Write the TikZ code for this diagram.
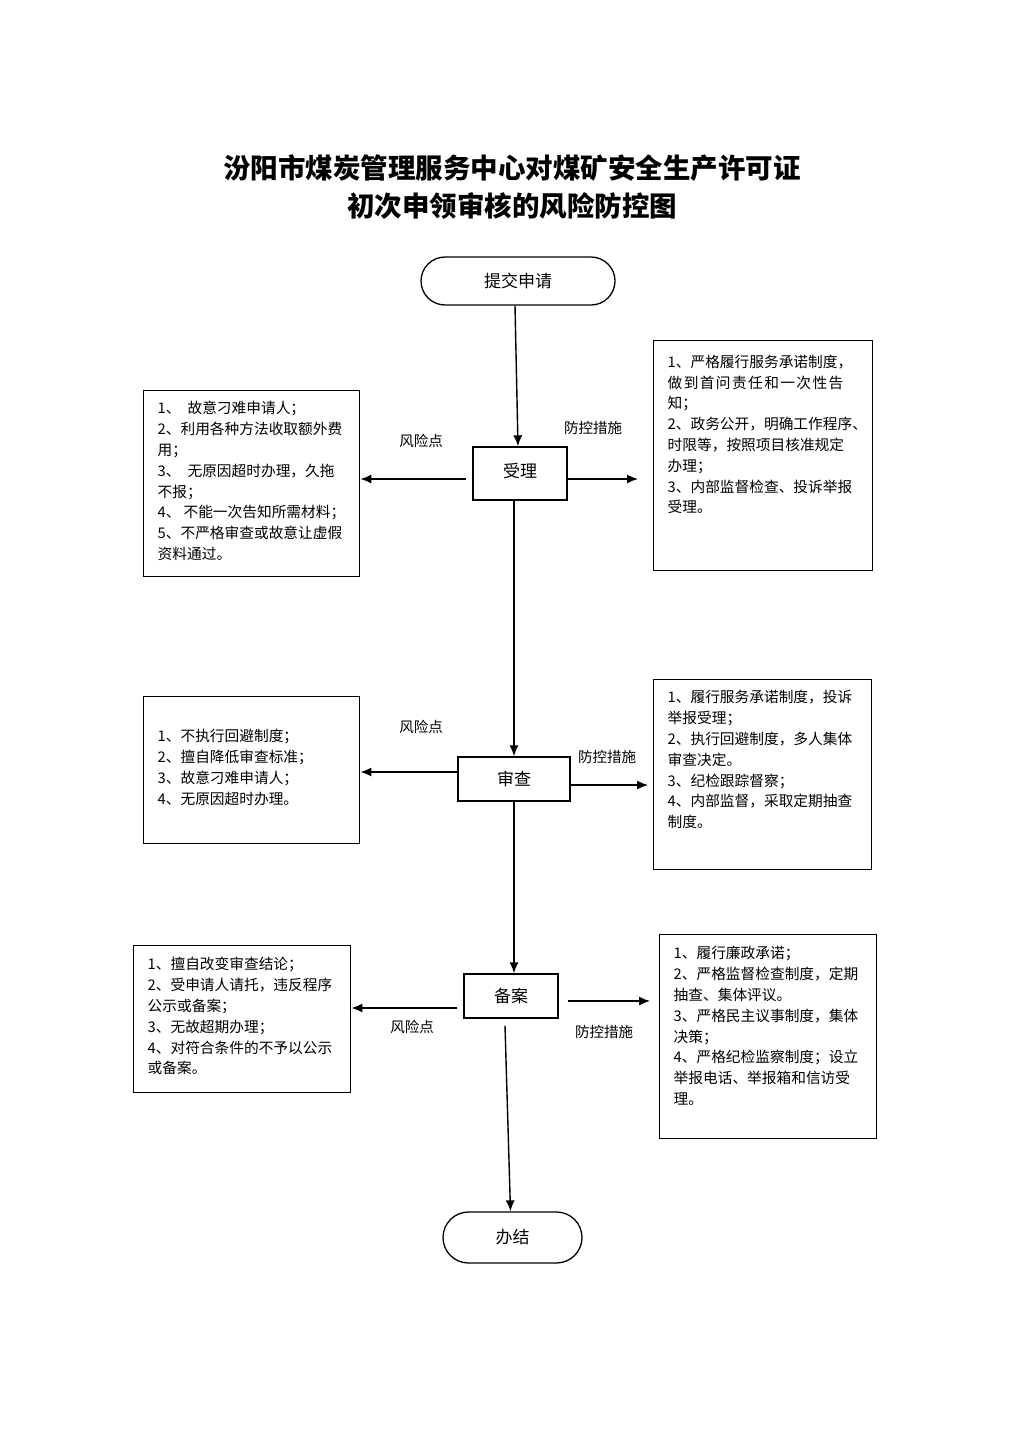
\documentclass[tikz,border=0pt]{standalone}
\usepackage{fontspec}
\newfontfamily\cjk{Noto Sans CJK SC}
\usetikzlibrary{arrows.meta,shapes.misc}
\hfuzz=200pt
\vfuzz=200pt
\newcommand\panelbody[4]{\parbox[c][#2][t]{#1}{\raggedright\leftskip=14pt\rightskip=0pt plus 1fil\parindent=0pt\cjk\fontsize{14.7}{20.8}\selectfont\vspace*{#3}#4\par}}
\begin{document}
\begin{tikzpicture}[x=1pt,y=-1pt,
  every node/.style={text=black},
  term/.style={draw, line width=1.3pt, rounded rectangle, inner sep=0pt, font=\cjk\fontsize{17}{20}\selectfont},
  procbox/.style={draw, line width=1.4pt, inner sep=0pt, font=\cjk\fontsize{17}{20}\selectfont},
  panel/.style={draw, line width=1.4pt, inner sep=0pt, anchor=north west},
  flow/.style={line width=1.4pt, -{Latex[length=11pt,width=9pt]}},
  lbl/.style={font=\cjk\fontsize{14.5}{16}\selectfont},
  ttl/.style={font=\cjk\bfseries\fontsize{27.5}{30}\selectfont}
]
\useasboundingbox (0,0) rectangle (1024,1448);
\fill[white] (0,0) rectangle (1024,1448);

% title
\node[ttl] (t1) at (512,168) {汾阳市煤炭管理服务中心对煤矿安全生产许可证};
\node[ttl] (t2) at (512,206) {初次申领审核的风险防控图};

% main flow
\node[term, minimum width=194pt, minimum height=48pt] (start) at (518,281) {提交申请};
\node[procbox, minimum width=94pt, minimum height=53pt] (a) at (520,473.5) {\raisebox{6pt}{受理}};
\node[procbox, minimum width=112pt, minimum height=44pt] (b) at (514,779) {审查};
\node[procbox, minimum width=94pt, minimum height=44pt] (c) at (511,996) {备案};
\node[term, minimum width=139pt, minimum height=51pt] (end) at (512.5,1237.5) {办结};

% panels
\node[panel] (l1) at (143,390) {\panelbody{216pt}{186pt}{10.7pt}{%
1、\hspace{7pt}故意刁难申请人；\\
2、利用各种方法收取额外费\\
用；\\
3、\hspace{7pt}无原因超时办理，久拖\\
不报；\\
4、\hspace{3pt}不能一次告知所需材料；\\
5、不严格审查或故意让虚假\\
资料通过。}};

\node[panel] (r1) at (653,340) {\panelbody{219pt}{230pt}{14.2pt}{%
1、严格履行服务承诺制度，\\
做\kern1.4pt 到\kern1.4pt 首\kern1.4pt 问\kern1.4pt 责\kern1.4pt 任\kern1.4pt 和\kern1.4pt 一\kern1.4pt 次\kern1.4pt 性\kern1.4pt 告\\
知；\\
2、政务公开，明确工作程序、\\
时限等，按照项目核准规定\\
办理；\\
3、内部监督检查、投诉举报\\
受理。}};

\node[panel] (l2) at (143,696) {\panelbody{216pt}{147pt}{32.7pt}{%
1、不执行回避制度；\\
2、擅自降低审查标准；\\
3、故意刁难申请人；\\
4、无原因超时办理。}};

\node[panel] (r2) at (653,679) {\panelbody{218pt}{190pt}{10.7pt}{%
1、履行服务承诺制度，投诉\\
举报受理；\\
2、执行回避制度，多人集体\\
审查决定。\\
3、纪检跟踪督察；\\
4、内部监督，采取定期抽查\\
制度。}};

\node[panel] (l3) at (133,945) {\panelbody{217pt}{147pt}{11.7pt}{%
1、擅自改变审查结论；\\
2、受申请人请托，违反程序\\
公示或备案；\\
3、无故超期办理；\\
4、对符合条件的不予以公示\\
或备案。}};

\node[panel] (r3) at (659,934) {\panelbody{217pt}{204pt}{11.7pt}{%
1、履行廉政承诺；\\
2、严格监督检查制度，定期\\
抽查、集体评议。\\
3、严格民主议事制度，集体\\
决策；\\
4、严格纪检监察制度；设立\\
举报电话、举报箱和信访受\\
理。}};

% labels
\node[lbl] (k1) at (421,441) {风险点};
\node[lbl] (m1) at (593,428) {防控措施};
\node[lbl] (k2) at (421,727) {风险点};
\node[lbl] (m2) at (607,757) {防控措施};
\node[lbl] (k3) at (412,1027) {风险点};
\node[lbl] (m3) at (604,1032) {防控措施};

% vertical connectors
\draw[flow] ([xshift=-3pt]start.south) -- ([xshift=-2pt]a.north);
\draw[flow] (b.north |- a.south) -- (b.north);
\draw[flow] (b.south) -- (b.south |- c.north);
\draw[flow] ([xshift=-6pt,yshift=-7pt]c.south) -- ([xshift=-2pt]end.north);

% horizontal connectors
\draw[flow] ([xshift=-6pt,yshift=-5.5pt]a.west) -- ([yshift=-5.5pt]a.west -| l1.east);
\draw[flow, shorten >=15pt] ([yshift=-5.5pt]a.east) -- ([yshift=-5.5pt]a.east -| r1.west);
\draw[flow] ([yshift=7pt]b.west) -- ([yshift=7pt]b.west -| l2.east);
\draw[flow, shorten >=5pt] ([yshift=-6pt]b.east) -- ([yshift=-6pt]b.east -| r2.west);
\draw[flow] ([xshift=-6pt,yshift=-12pt]c.west) -- ([yshift=-12pt]c.west -| l3.east);
\draw[flow, shorten >=9pt] ([xshift=9pt,yshift=-5pt]c.east) -- ([yshift=-5pt]c.east -| r3.west);
\end{tikzpicture}
\end{document}
